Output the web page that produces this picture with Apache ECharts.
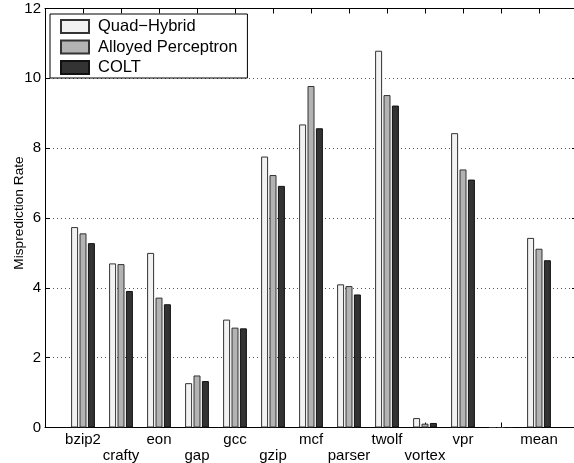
<!DOCTYPE html>
<html>
<head>
<meta charset="utf-8">
<script src="https://cdn.jsdelivr.net/npm/echarts@6/dist/echarts.min.js"></script>
<style>
html,body{margin:0;padding:0;background:#fff;}
#c{width:574px;height:463px;}
</style>
</head>
<body>
<div id="c"></div>
<script>
var categories = ['bzip2','crafty','eon','gap','gcc','gzip','mcf','parser','twolf','vortex','vpr','','mean'];
var quadHybrid = [5.74, 4.70, 5.00, 1.27, 3.09, 7.76, 8.68, 4.10, 10.79, 0.27, 8.43, 0, 5.43];
var alloyedPerceptron = [5.56, 4.68, 3.72, 1.49, 2.86, 7.23, 9.78, 4.05, 9.52, 0.11, 7.39, 0, 5.12];
var colt = [5.28, 3.91, 3.53, 1.33, 2.84, 6.92, 8.57, 3.81, 9.22, 0.13, 7.10, 0, 4.79];
var yTicks = [0, 2, 4, 6, 8, 10, 12];

var xData = [''].concat(categories, ['']);
function pad(arr){ return [null].concat(arr, [null]); }

var FONT = 'Liberation Sans, Arial, Helvetica, sans-serif';
var chart = echarts.init(document.getElementById('c'), null, {renderer:'canvas'});
var barCommon = {
  type: 'bar', barWidth: 7, barGap: '20%', xAxisIndex: 0, yAxisIndex: 0,
  animation: false
};
chart.setOption({
  animation: false,
  backgroundColor: '#fff',
  grid: {left: 45, top: 8.5, width: 532, height: 419, containLabel: false, outerBoundsMode: 'none'},
  legend: {
    orient: 'vertical', left: 50, top: 14, icon: 'rect',
    backgroundColor: '#fff', borderColor: '#000', borderWidth: 1,
    padding: [4, 10, 2, 10],
    itemWidth: 28, itemHeight: 13, itemGap: 3.5,
    textStyle: {fontFamily: FONT, fontSize: 16.5, color: '#000', lineHeight: 14, padding: [0,0,0,4]},
    data: ['Quad\u2212Hybrid', 'Alloyed Perceptron', 'COLT']
  },
  xAxis: [{
    type: 'category', data: xData, boundaryGap: false, position: 'bottom',
    axisLine: {show: true, onZero: false, lineStyle: {color: '#000', width: 1}},
    axisTick: {show: true, inside: true, length: 5, interval: 0, lineStyle: {color: '#000'}},
    axisLabel: {
      interval: 0, margin: 4, fontFamily: FONT, fontSize: 15, color: '#000', lineHeight: 16.5,
      formatter: function(v, i){ return (i % 2 === 0) ? '\n' + v : v; }
    },
    splitLine: {show: false}
  }, {
    type: 'category', data: xData, boundaryGap: false, position: 'top',
    axisLine: {show: true, onZero: false, lineStyle: {color: '#000', width: 1}},
    axisTick: {show: true, inside: true, length: 5, interval: 0, lineStyle: {color: '#000'}},
    axisLabel: {show: false},
    splitLine: {show: false}
  }],
  yAxis: [{
    type: 'value', min: yTicks[0], max: yTicks[yTicks.length-1], interval: 2, position: 'left',
    name: 'Misprediction Rate', nameLocation: 'middle', nameGap: 19, nameRotate: 90,
    nameMoveOverlap: false,
    nameTextStyle: {fontFamily: FONT, fontSize: 13.7, color: '#000', padding: [0, 0, 0, 10]},
    axisLine: {show: true, lineStyle: {color: '#000', width: 1}},
    axisTick: {show: true, inside: true, length: 5, lineStyle: {color: '#000'}},
    axisLabel: {margin: 4, fontFamily: FONT, fontSize: 15, color: '#000'},
    splitLine: {show: true, lineStyle: {color: '#555', width: 1, type: [1, 3]}}
  }, {
    type: 'value', min: yTicks[0], max: yTicks[yTicks.length-1], interval: 2, position: 'right',
    axisLine: {show: true, lineStyle: {color: '#000', width: 1}},
    axisTick: {show: true, inside: true, length: 5, lineStyle: {color: '#000'}},
    axisLabel: {show: false},
    splitLine: {show: false}
  }],
  series: [
    Object.assign({}, barCommon, {name: 'Quad\u2212Hybrid', data: pad(quadHybrid),
      itemStyle: {color: '#f2f2f2', borderColor: '#333', borderWidth: 1}}),
    Object.assign({}, barCommon, {name: 'Alloyed Perceptron', data: pad(alloyedPerceptron),
      itemStyle: {color: '#b3b3b3', borderColor: '#333', borderWidth: 1}}),
    Object.assign({}, barCommon, {name: 'COLT', data: pad(colt),
      itemStyle: {color: '#333333', borderColor: '#111', borderWidth: 1}})
  ]
});
</script>
</body>
</html>
